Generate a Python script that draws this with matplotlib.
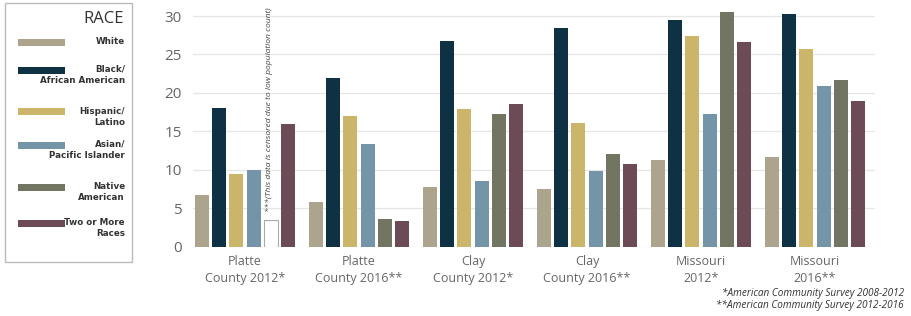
import matplotlib
matplotlib.use("Agg")
import matplotlib.pyplot as plt
import numpy as np
from matplotlib.patches import Rectangle

groups = ["Platte\nCounty 2012*", "Platte\nCounty 2016**", "Clay\nCounty 2012*",
          "Clay\nCounty 2016**", "Missouri\n2012*", "Missouri\n2016**"]
races = ["White", "Black/\nAfrican American", "Hispanic/\nLatino",
         "Asian/\nPacific Islander", "Native\nAmerican", "Two or More\nRaces"]
white = [6.7, 5.8, 7.7, 7.5, 11.3, 11.7]
black = [18.1, 22.0, 26.7, 28.5, 29.5, 30.3]
hispanic = [9.5, 17.0, 17.9, 16.1, 27.4, 25.7]
asian = [10.0, 13.3, 8.5, 9.8, 17.3, 20.9]
native = [None, 3.6, 17.3, 12.1, 30.5, 21.7]
two_more = [16.0, 3.3, 18.6, 10.8, 26.6, 19.0]
censored_height = 3.5
yticks = [0, 5, 10, 15, 20, 25, 30]
colors = ["#aca48d", "#0e3143", "#cbb56b", "#7494a8", "#737563", "#6c4b56"]

series = [white, black, hispanic, asian, native, two_more]

plt.rcParams['font.family'] = ['Open Sans', 'DejaVu Sans']
fig = plt.figure(figsize=(9.12, 3.16), dpi=100)
ax = fig.add_axes([193/912, (316-246.7)/316, (875-193)/912, 31.5*7.69/316])

x = np.arange(len(groups))
step = 0.151
width = 0.123
for i, (vals, c) in enumerate(zip(series, colors)):
    pos = x + (i - 2.5) * step
    for xp, v in zip(pos, vals):
        if v is None:
            ax.bar(xp, censored_height, width=width, facecolor="white",
                   edgecolor="#aaaaaa", linewidth=0.8, zorder=3)
            ax.text(xp - 0.01, censored_height + 1.0,
                    "***(This data is censored due to low population count)",
                    rotation=90, ha="center", va="bottom", fontsize=6.1,
                    style="italic", color="#444444", zorder=4, clip_on=False)
        else:
            ax.bar(xp, v, width=width, color=c, zorder=3)

ax.set_xlim(-0.456, 5.526)
ax.set_ylim(0, 31.5)
ax.set_yticks(yticks)
ax.set_yticklabels([str(t) for t in yticks], fontsize=11, color="#666666")
ax.set_xticks(x)
ax.set_xticklabels(groups, fontsize=9, color="#666666", linespacing=1.4)
ax.tick_params(axis="both", length=0)
ax.tick_params(axis="y", pad=8)
ax.tick_params(axis="x", pad=6)
for s in ax.spines.values():
    s.set_visible(False)
ax.grid(axis="y", color="#e6e6e6", linewidth=0.9, zorder=0)
ax.set_axisbelow(True)

# footnotes
fig.text(904/912, 1 - 293/316, "*American Community Survey 2008-2012",
         ha="right", va="center", fontsize=7.2, style="italic", color="#333333")
fig.text(904/912, 1 - 305/316, "**American Community Survey 2012-2016",
         ha="right", va="center", fontsize=7.2, style="italic", color="#333333")

# legend box
W, H = 912, 316
fig.patches.append(Rectangle((5/W, 1 - 262/H), 127/W, 259/H, transform=fig.transFigure,
                             facecolor="white", edgecolor="#bbbbbb", linewidth=1.0))
fig.text(124/W, 1 - 19/H, "RACE", ha="right", va="center", fontsize=12, color="#333333")
sw_y = [42, 70, 112, 145, 187, 223]
for lab, c, yy in zip(races, colors, sw_y):
    fig.patches.append(Rectangle((18/W, 1 - (yy + 3.5)/H), 47/W, 7/H,
                                 transform=fig.transFigure, facecolor=c, edgecolor="none"))
    fig.text(125/W, 1 - (yy - 5)/H, lab, ha="right", va="top", fontsize=6.3,
             fontweight="bold", color="#333333",
             linespacing=1.35, family=["DejaVu Sans"])

fig.savefig("out.png", dpi=100)
